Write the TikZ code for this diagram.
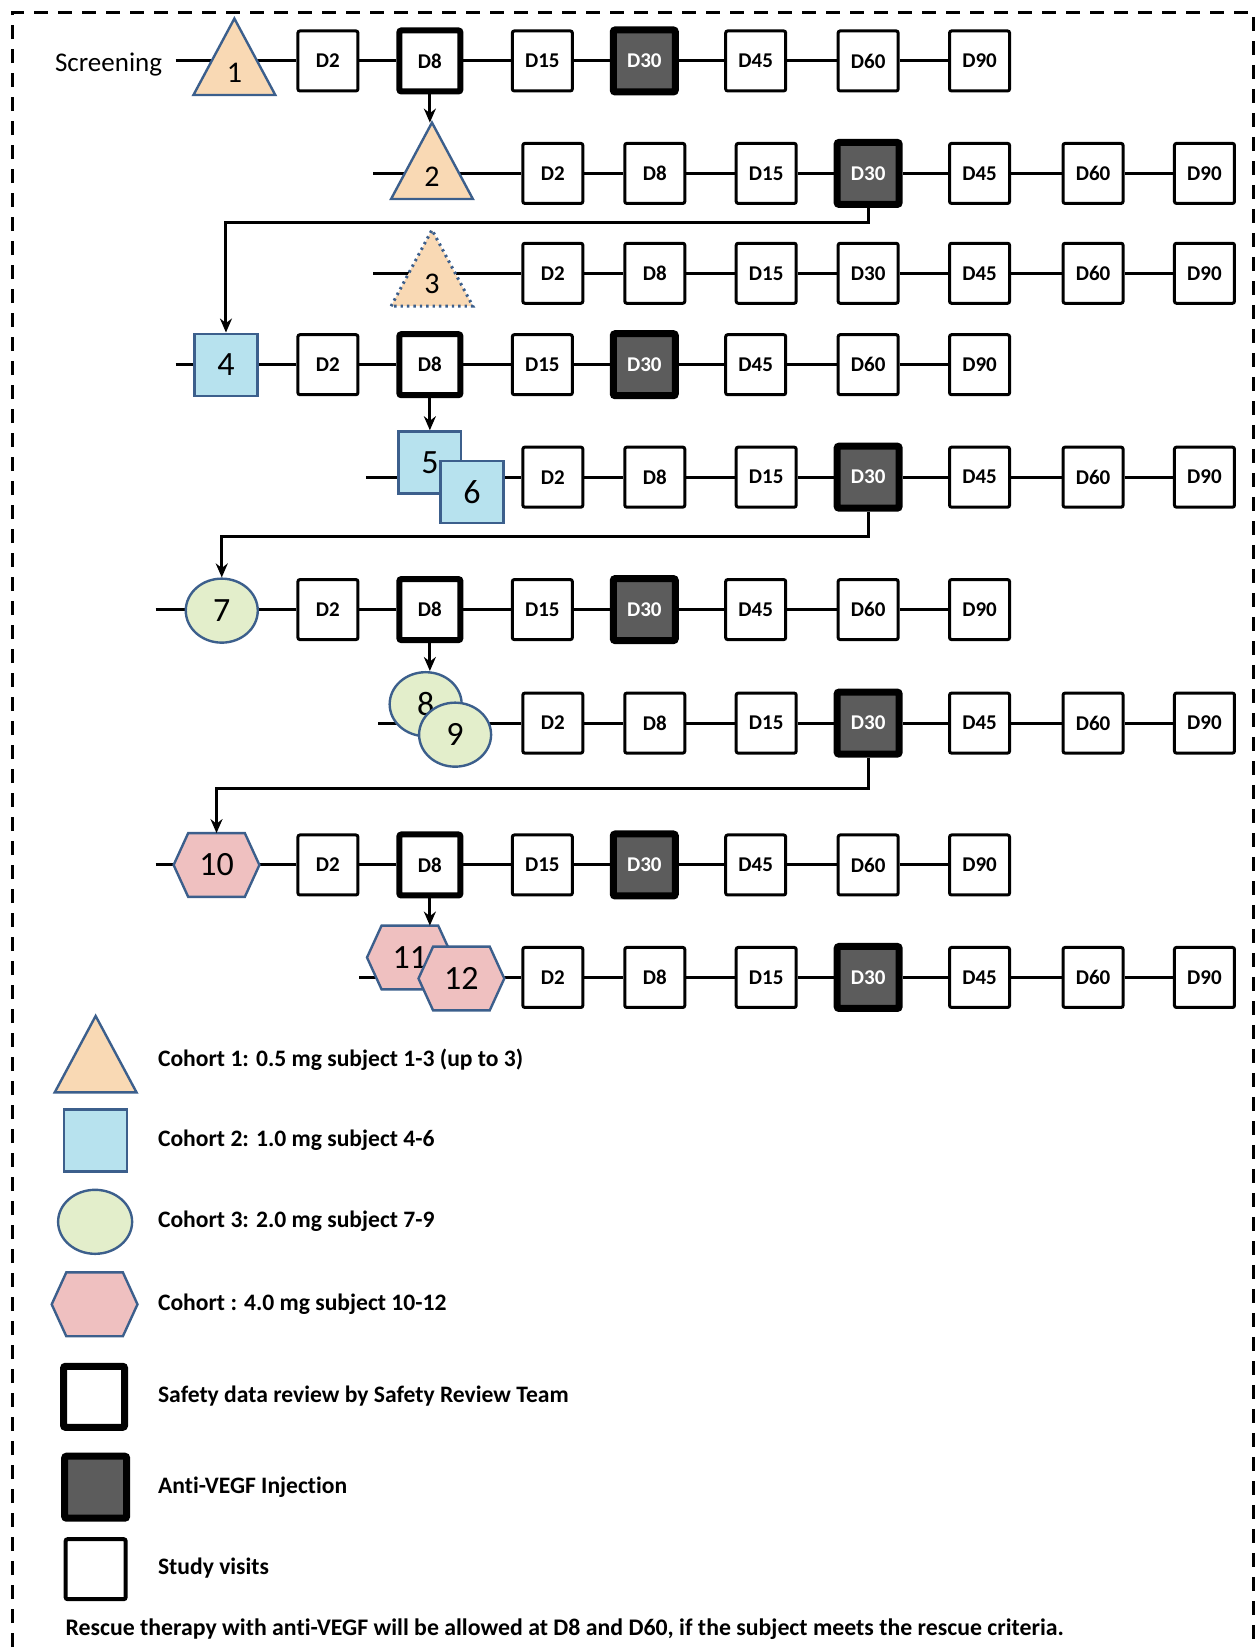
\documentclass[tikz,border=0pt]{standalone}
\usepackage{fontspec}
\setmainfont{Carlito}[Ligatures=NoCommon]
\usetikzlibrary{shapes.geometric,arrows.meta,calc}
\pgfdeclarelayer{bg}
\pgfsetlayers{bg,main}
\definecolor{peach}{HTML}{F9D9B4}
\definecolor{lblue}{HTML}{B7E2EE}
\definecolor{lgreen}{HTML}{E3EECB}
\definecolor{lpink}{HTML}{EFC0C0}
\definecolor{shapeline}{HTML}{3C5F8C}
\definecolor{injfill}{HTML}{5C5C5C}
\newcommand\boxfont{\fontsize{10.5}{12}\selectfont\bfseries}
\newcommand\numfont{\fontsize{17}{18}\selectfont}
\newcommand\legfont{\fontsize{11.8}{13}\selectfont\bfseries}
\newcommand\mytri[4]{%
  \node[tribox] (#1) at (#2) {};
  \filldraw[trishape,#4] (#1.south west) -- (#1.north) -- (#1.south east) -- cycle;
  \node[font=\fontsize{15}{16}\selectfont, inner sep=0pt] at ([yshift=-8pt]#1.center) {#3};
}
\newcommand\myhex[3]{%
  \node[hexbox] (#1) at (#2) {};
  \filldraw[hexshape] (#1.west) -- ($(#1.north west)!0.17!(#1.north east)$) -- ($(#1.north west)!0.83!(#1.north east)$) -- (#1.east) -- ($(#1.south west)!0.83!(#1.south east)$) -- ($(#1.south west)!0.17!(#1.south east)$) -- cycle;
  \node[font=\numfont, inner sep=0pt] at (#1.center) {#3};
}
\newcommand\visitrow[3]{%
  \foreach \lab/\xx/\st [count=\i] in {#3} {\node[\st] (#1-\i) at (\xx,#2) {\lab};}
  \begin{pgfonlayer}{bg}
  \foreach \i in {1,...,6}{\pgfmathtruncatemacro\nxt{\i+1}\draw[conn] (#1-\i) -- (#1-\nxt);}
  \end{pgfonlayer}
}
\begin{document}
\begin{tikzpicture}[x=0.5255pt,y=-0.5255pt,
  visit/.style={draw, line width=1.5pt, fill=white, minimum width=30pt, minimum height=30pt, inner sep=0pt, rounded corners=1pt, font=\boxfont},
  review/.style={visit, line width=3pt, minimum width=30.5pt, minimum height=30.5pt},
  inject/.style={visit, fill=injfill, line width=3.5pt, minimum width=31pt, minimum height=31pt, text=white},
  conn/.style={line width=1.5pt},
  arr/.style={conn, -{Stealth[length=7pt,width=6pt]}},
  sq/.style={draw=shapeline, line width=1.2pt, fill=lblue, minimum width=31.4pt, minimum height=31pt, inner sep=0pt, font=\numfont},
  ell/.style={ellipse, draw=shapeline, line width=1.2pt, fill=lgreen, minimum width=36pt, minimum height=32pt, inner sep=0pt, font=\numfont},
  tribox/.style={inner sep=0pt, minimum width=40.5pt, minimum height=37.8pt},
  hexbox/.style={inner sep=0pt, minimum width=42.5pt, minimum height=31.5pt},
  trishape/.style={draw=shapeline, line width=1.2pt, fill=peach, line join=miter},
  hexshape/.style={draw=shapeline, line width=1.2pt, fill=lpink},
  legtxt/.style={anchor=west, inner sep=0pt, font=\legfont}
]
\useasboundingbox (0,0) rectangle (1195,1568);
\draw[line width=1.5pt, dash pattern=on 7pt off 5pt] (12,1590) -- (12,12) -- (1193,12) -- (1193,1590);

% ---------- rows of visits ----------
\visitrow{r1}{58}{D2/312/visit,D8/409/review,D15/516/visit,D30/613/inject,D45/719/visit,D60/826/visit,D90/932/visit}
\visitrow{r2}{165}{D2/526/visit,D8/623/visit,D15/729/visit,D30/826/inject,D45/932/visit,D60/1040/visit,D90/1146/visit}
\visitrow{r3}{260}{D2/526/visit,D8/623/visit,D15/729/visit,D30/826/visit,D45/932/visit,D60/1040/visit,D90/1146/visit}
\visitrow{r4}{347}{D2/312/visit,D8/409/review,D15/516/visit,D30/613/inject,D45/719/visit,D60/826/visit,D90/932/visit}
\visitrow{r5}{454}{D2/526/visit,D8/623/visit,D15/729/visit,D30/826/inject,D45/932/visit,D60/1040/visit,D90/1146/visit}
\visitrow{r6}{580}{D2/312/visit,D8/409/review,D15/516/visit,D30/613/inject,D45/719/visit,D60/826/visit,D90/932/visit}
\visitrow{r7}{688}{D2/526/visit,D8/623/visit,D15/729/visit,D30/826/inject,D45/932/visit,D60/1040/visit,D90/1146/visit}
\visitrow{r8}{823}{D2/312/visit,D8/409/review,D15/516/visit,D30/613/inject,D45/719/visit,D60/826/visit,D90/932/visit}
\visitrow{r9}{930}{D2/526/visit,D8/623/visit,D15/729/visit,D30/826/inject,D45/932/visit,D60/1040/visit,D90/1146/visit}

% ---------- start points ----------
\node[anchor=west, inner sep=0pt, font=\fontsize{13.5}{15}\selectfont] (scr) at (52,61) {Screening};
\coordinate (s1) at (167,58);
\coordinate (s2) at (355,165);
\coordinate (s3) at (355,260);
\coordinate (s4) at (167,347);
\coordinate (s5) at (348,454);
\coordinate (s6) at (148,580);
\coordinate (s7) at (360,688);
\coordinate (s8) at (148,823);
\coordinate (s9) at (342,930);
\begin{pgfonlayer}{bg}
\foreach \r in {1,...,9} {\draw[conn] (s\r) -- (r\r-1);}
\end{pgfonlayer}

% ---------- subjects ----------
\mytri{c1}{223,54}{1}{}
\mytri{c2}{411,153}{2}{}
\mytri{c3}{411,255}{3}{dotted, line width=1.5pt}
\node[sq] (c4) at (215,347) {4};
\node[sq] (c5) at (409,440) {5};
\node[sq] (c6) at (449,468) {6};
\node[ell] (c7) at (211,581) {7};
\node[ell] (c8) at (405,670) {8};
\node[ell] (c9) at (433,699) {9};
\myhex{c10}{206,823}{10}
\myhex{c11}{390,911}{11}
\myhex{c12}{439,931}{12}

% ---------- progression arrows ----------
\draw[arr] (r1-2.south) -- (r1-2.south |- c2.north);
\draw[arr] (r2-4.south) -- ++(0,14) -| (c4.north);
\draw[arr] (r4-2.south) -- (r4-2.south |- c5.north);
\draw[arr] (r5-4.south) -- ++(0,24) -| (c7.north);
\draw[arr] (r6-2.south) -- (r6-2.south |- c8.north);
\draw[arr] (r7-4.south) -- ++(0,29) -| (c10.north);
\draw[arr] (r8-2.south) -- (r8-2.south |- c11.north);

% ---------- legend ----------
\mytri{l1}{91,1003}{}{}
\node[legtxt] (lt1) at (150,1008) {Cohort 1: 0.5 mg subject 1-3 (up to 3)};
\node[sq] (l2) at (91,1085) {};
\node[legtxt] (lt2) at (150,1085) {Cohort 2: 1.0 mg subject 4-6};
\node[ell, minimum width=37pt] (l3) at (90.5,1162.5) {};
\node[legtxt] (lt3) at (150,1162) {Cohort 3: 2.0 mg subject 7-9};
\myhex{l4}{90,1241}{}
\node[legtxt] (lt4) at (150,1241) {Cohort : 4.0 mg subject 10-12};
\node[review, line width=3.5pt] (l5) at (89.5,1329) {};
\node[legtxt] (lt5) at (150,1328) {Safety data review by Safety Review Team};
\node[inject] (l6) at (91,1415) {};
\node[legtxt] (lt6) at (150,1415) {Anti-VEGF Injection};
\node[visit, line width=2pt] (l7) at (91,1493) {};
\node[legtxt] (lt7) at (150,1492) {Study visits};
\node[anchor=west, inner sep=0pt, font=\fontsize{11.9}{13}\selectfont\bfseries] (foot) at (62,1550) {Rescue therapy with anti-VEGF will be allowed at D8 and D60, if the subject meets the rescue criteria.};
\end{tikzpicture}
\end{document}
